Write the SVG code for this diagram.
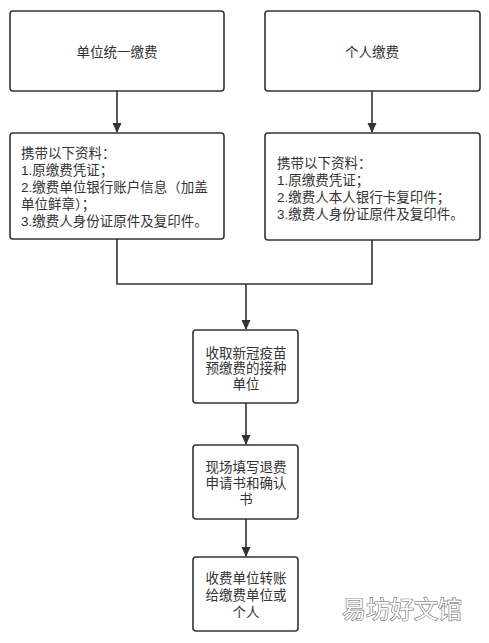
<svg xmlns="http://www.w3.org/2000/svg" width="489" height="643" viewBox="0 0 489 643">
<defs>
<style>
.box{fill:#fff;stroke:#333;stroke-width:1.6}
.t{font-family:"Liberation Sans","Noto Sans CJK SC",sans-serif;font-size:13.5px;fill:#333}
.c{text-anchor:middle}
.ln{fill:none;stroke:#333;stroke-width:1.6}
.wm{font-family:"Noto Sans CJK SC",sans-serif;font-size:24px;fill:#fff;stroke:#666;stroke-width:1.2;paint-order:stroke;text-anchor:middle}
</style>
<marker id="ah" markerWidth="10" markerHeight="10" refX="9" refY="5" orient="auto" markerUnits="userSpaceOnUse">
<path d="M0,0.5 L10,5 L0,9.5 Z" fill="#333"/>
</marker>
</defs>
<rect width="489" height="643" fill="#fff"/>
<g id="connectors">
<line class="ln" x1="117" y1="91" x2="117" y2="132" marker-end="url(#ah)"/>
<line class="ln" x1="372" y1="91" x2="372" y2="132" marker-end="url(#ah)"/>
<polyline class="ln" points="117,239 117,284 372,284 372,240"/>
<line class="ln" x1="246" y1="284" x2="246" y2="329" marker-end="url(#ah)"/>
<line class="ln" x1="246" y1="403" x2="246" y2="444" marker-end="url(#ah)"/>
<line class="ln" x1="246" y1="519" x2="246" y2="556" marker-end="url(#ah)"/>
</g>
<g id="n1">
<rect class="box" x="10" y="11" width="214" height="80" rx="3"/>
<text class="t c" x="117" y="57">单位统一缴费</text>
</g>
<g id="n2">
<rect class="box" x="265" y="11" width="215" height="80" rx="3"/>
<text class="t c" x="372" y="57">个人缴费</text>
</g>
<g id="n3">
<rect class="box" x="10" y="133" width="214" height="106" rx="3"/>
<text class="t" x="21" y="158">携带以下资料：</text>
<text class="t" x="21" y="175">1.原缴费凭证；</text>
<text class="t" x="21" y="192">2.缴费单位银行账户信息（加盖</text>
<text class="t" x="21" y="209">单位鲜章）；</text>
<text class="t" x="21" y="226">3.缴费人身份证原件及复印件。</text>
</g>
<g id="n4">
<rect class="box" x="265" y="133" width="215" height="107" rx="3"/>
<text class="t" x="277" y="168">携带以下资料：</text>
<text class="t" x="277" y="185">1.原缴费凭证；</text>
<text class="t" x="277" y="202">2.缴费人本人银行卡复印件；</text>
<text class="t" x="277" y="219">3.缴费人身份证原件及复印件。</text>
</g>
<g id="n5">
<rect class="box" x="193" y="330" width="105" height="73" rx="3"/>
<text class="t c" x="246" y="358">收取新冠疫苗</text>
<text class="t c" x="246" y="373">预缴费的接种</text>
<text class="t c" x="246" y="389">单位</text>
</g>
<g id="n6">
<rect class="box" x="193" y="445" width="105" height="74" rx="3"/>
<text class="t c" x="246" y="472">现场填写退费</text>
<text class="t c" x="246" y="488">申请书和确认</text>
<text class="t c" x="246" y="504">书</text>
</g>
<g id="n7">
<rect class="box" x="193" y="557" width="105" height="74" rx="3"/>
<text class="t c" x="246" y="583">收费单位转账</text>
<text class="t c" x="246" y="600">给缴费单位或</text>
<text class="t c" x="246" y="617">个人</text>
</g>
<text class="wm" x="402" y="618">易坊好文馆</text>
</svg>
